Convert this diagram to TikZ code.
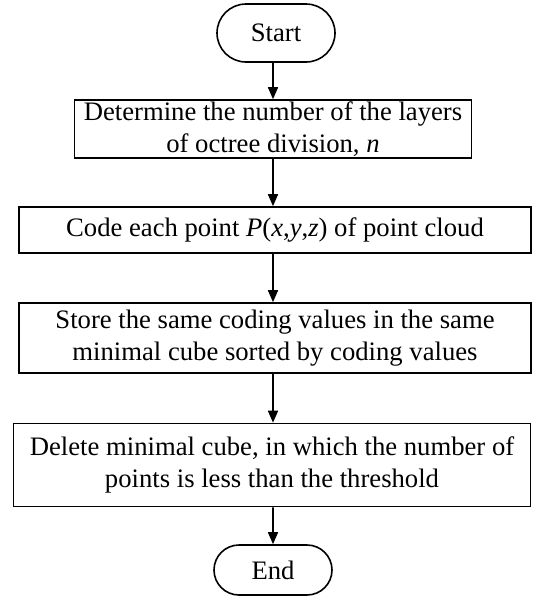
\documentclass[tikz,border=0pt]{standalone}
\usepackage{fontspec}
\setmainfont{Liberation Serif}
\usetikzlibrary{arrows.meta,shapes.misc}

\tikzset{every picture/.style={line width=1.2pt}}
\tikzset{
  procbox/.style={draw, rectangle, align=center, inner sep=0pt,
    font=\fontsize{20}{23.5}\selectfont},
  termbox/.style={draw, rounded rectangle, inner sep=0pt,
    font=\fontsize{20}{23.5}\selectfont},
  flow/.style={-{Triangle[length=9pt,width=7.5pt]}}
}

\begin{document}
\begin{tikzpicture}[x=0.75pt,y=0.75pt,yscale=-1]
\useasboundingbox (0,0) rectangle (533,597);

% Terminals
\node [termbox, minimum width=88.5pt, minimum height=43.5pt] (start) at (276,33) {Start};
\node [termbox, minimum width=88.5pt, minimum height=37.5pt] (stop) at (273,570) {End};

% Steps
\node [procbox, minimum width=297.75pt, minimum height=43.5pt] (layers) at (273,129)
  {Determine the number of the layers\\ of octree division, \textit{n}};
\node [procbox, minimum width=384pt, minimum height=34.5pt] (coding) at (275,230)
  {Code each point \textit{P}(\textit{x},\textit{y},\textit{z}) of point cloud};
\node [procbox, minimum width=384pt, minimum height=52.5pt] (store) at (275,338)
  {Store the same coding values in the same\\ minimal cube sorted by coding values};
\node [procbox, minimum width=387.75pt, minimum height=62.25pt] (delete) at (272,465)
  {Delete minimal cube, in which the number of\\ points is less than the threshold};

% Connectors
\draw [flow] (start.south -| layers) -- (layers);
\draw [flow] (layers) -- (layers |- coding.north);
\draw [flow] (coding.south -| layers) -- (layers |- store.north);
\draw [flow] (store.south -| layers) -- (layers |- delete.north);
\draw [flow] (delete.south -| layers) -- (stop);

\end{tikzpicture}
\end{document}
